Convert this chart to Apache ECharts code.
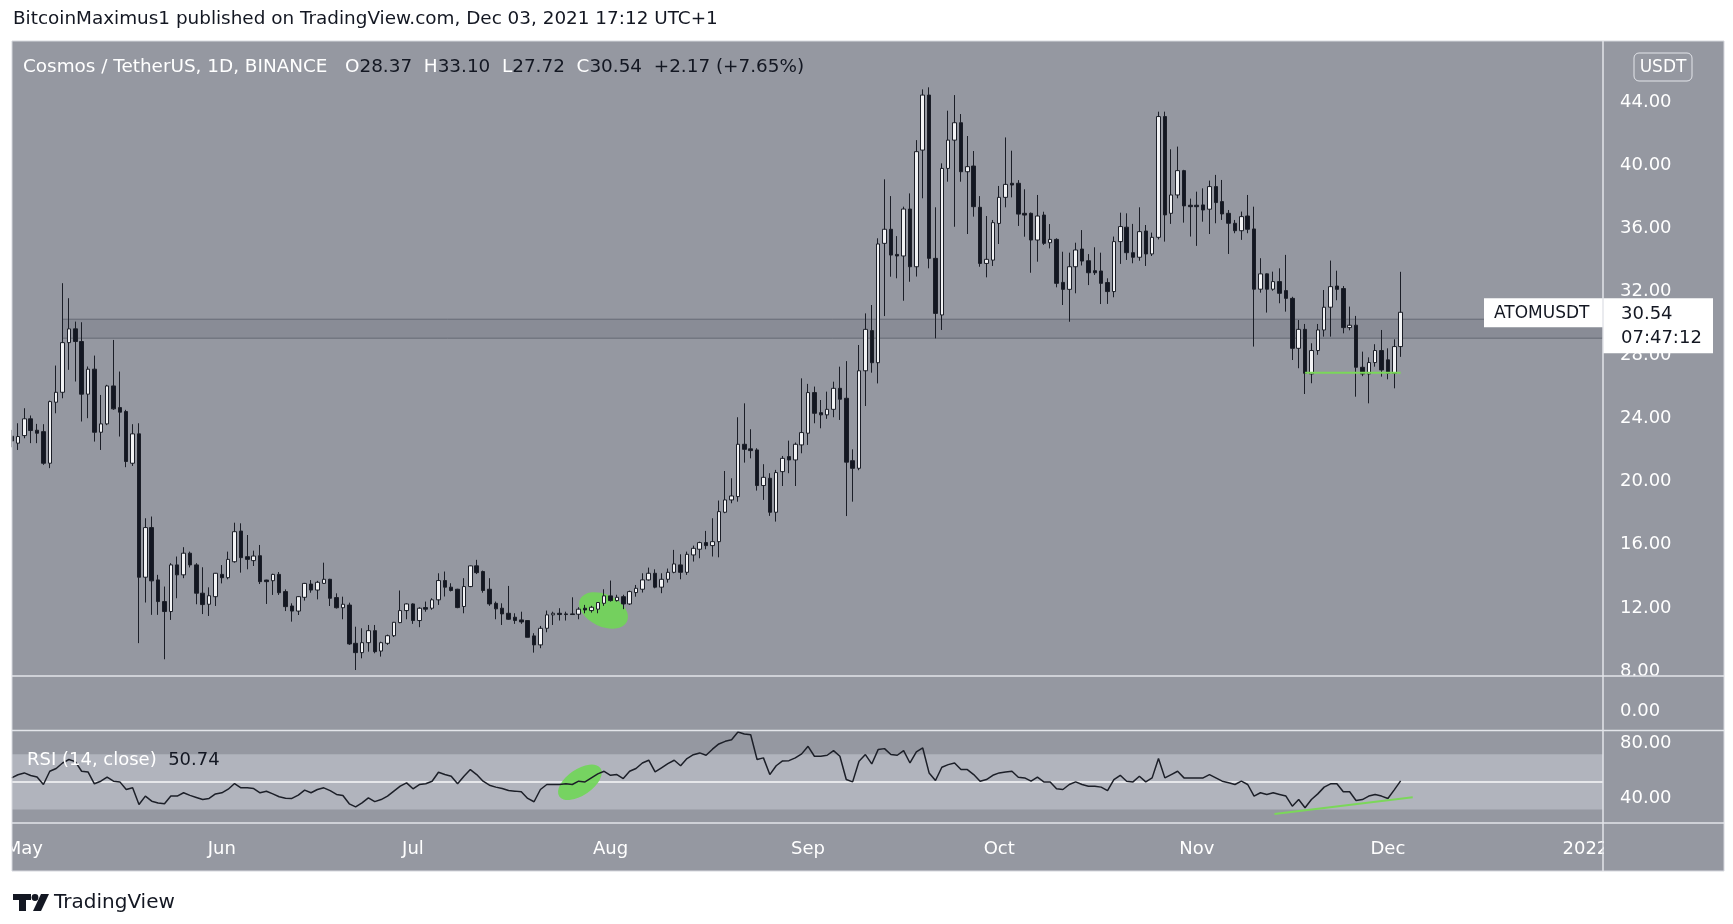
<!DOCTYPE html>
<html>
<head>
<meta charset="utf-8">
<script src="https://cdn.jsdelivr.net/npm/echarts@6/dist/echarts.min.js"></script>
<style>
html,body{margin:0;padding:0;background:#ffffff;}
#c{width:1733px;height:924px;}
</style>
</head>
<body>
<div id="c"></div>
<script>
// ---------- DATA ----------
// day index relative to 2021-05-01 (0 = May 1); first candle = Apr 29
const firstDay = -2;
const opens = [
 22.7,22.26,22.74,23.8,23.08,22.99,20.99,24.85,25.48,28.62,29.49,
 28.69,25.36,26.94,22.95,23.48,25.88,24.51,24.26,20.99,22.85,
 13.78,16.92,13.61,12.24,11.61,14.56,13.93,15.3,14.56,12.77,12.07,12.55,
 13.96,13.75,14.76,16.7,15.08,14.83,15.14,13.6,13.56,13.96,
 12.87,11.96,11.64,12.51,13.35,12.97,13.39,13.65,12.49,11.85,
 12.02,9.6,9.01,9.64,10.4,9.11,9.6,10.08,10.91,11.67,
 12.09,11.04,11.86,11.82,12.35,13.57,13.15,13.02,11.93,13.19,
 14.5,14.14,13.02,12.13,11.82,11.5,11.25,11.08,11.04,10.07,
 9.5,10.55,11.4,11.5,11.46,11.46,11.44,11.82,11.67,11.76,12.13,
 12.6,12.3,12.55,12.09,12.81,13.02,13.61,14.03,13.15,13.65,
 14.09,14.56,14.09,15.19,15.55,15.97,15.78,16.03,17.89,18.67,
 18.88,22.19,21.9,21.83,19.58,20.04,17.89,20.46,21.41,21.2,22.15,
 22.89,25.46,24.19,24.05,24.4,25.73,25.1,21.15,20.67,26.84,
 29.38,27.35,34.9,35.79,34.2,34.1,37.07,33.42,40.8,44.28,
 33.95,30.37,39.64,41.43,42.53,39.43,39.79,37.18,33.63,33.84,
 36.16,37.81,38.7,38.7,36.8,36.8,35.11,36.69,34.94,35.15,
 32.43,31.99,33.42,34.54,33.8,33.17,33.15,32.42,31.85,35.01,
 35.92,34.31,34.02,35.68,34.23,35.28,42.92,36.8,37.96,39.5,37.31,
 37.31,37.33,37.06,38.49,37.54,36.8,36.17,35.7,36.63,35.81,
 32.0,32.97,32.0,32.48,31.91,31.42,28.26,29.46,26.64,28.12,
 29.42,30.86,32.2,32.04,29.57,29.72,27.06,26.64,27.36,28.12,27.53,26.68,28.37
];
const closes = [
 22.4,22.68,23.8,23.06,22.89,20.99,24.89,25.48,28.62,29.49,28.69,
 25.36,26.94,22.95,23.48,25.88,24.43,24.22,21.1,22.85,13.78,
 16.92,13.55,12.24,11.61,14.56,13.93,15.3,14.56,12.77,12.05,12.61,14.03,
 13.75,14.91,16.66,15.02,14.91,15.12,13.5,13.5,13.96,12.8,
 11.92,11.64,12.55,13.39,12.97,13.46,13.65,12.45,11.85,12.07,
 9.56,9.01,9.64,10.4,9.07,9.64,10.08,10.93,11.67,12.09,
 11.04,11.82,11.76,12.35,13.57,13.15,12.94,11.86,13.19,14.5,
 14.07,12.94,12.09,11.78,11.46,11.12,11.04,10.95,9.98,9.5,
 10.55,11.4,11.5,11.42,11.42,11.42,11.76,11.71,11.88,12.18,12.6,
 12.3,12.51,12.09,12.87,13.08,13.61,14.03,13.15,13.65,14.09,
 14.62,14.09,15.23,15.61,15.97,15.78,16.03,17.93,18.67,18.92,
 22.19,21.87,21.79,19.58,20.1,17.89,20.4,21.3,21.2,22.19,22.93,
 25.46,24.15,24.05,24.4,25.73,25.04,21.06,20.67,26.84,29.46,
 27.35,34.86,35.79,34.16,34.1,37.07,33.42,40.7,44.28,33.95,
 30.47,39.64,41.43,42.53,39.43,39.75,37.22,33.63,33.89,36.21,
 37.81,38.63,38.59,36.75,36.69,35.11,36.63,34.9,35.15,32.37,
 31.99,33.42,34.48,33.78,33.04,33.04,32.37,31.85,35.01,35.96,
 34.31,34.02,35.64,34.23,35.28,42.92,36.7,37.96,39.5,37.27,37.22,
 37.22,37.01,38.49,37.48,36.76,36.17,35.7,36.59,35.79,32.0,
 32.97,32.0,32.48,31.74,31.42,28.26,29.46,26.68,28.12,29.42,
 30.86,32.16,31.99,29.57,29.72,27.06,26.64,27.36,28.12,26.89,26.68,28.37,30.54
];
const lows = [
 22.0,21.83,22.57,22.26,22.26,20.89,20.68,24.15,25.1,26.9,26.16,
 23.63,23.84,22.36,21.83,23.4,24.37,22.68,20.74,20.82,9.61,
 12.18,11.4,11.4,8.59,11.08,12.45,13.72,14.4,12.07,11.45,11.33,11.96,
 13.39,13.65,14.7,14.07,14.28,14.49,13.35,12.09,12.66,12.66,
 11.64,10.97,11.39,12.3,12.8,12.38,13.35,11.96,11.8,11.12,
 9.5,7.91,8.65,9.07,8.97,8.76,9.5,10.0,10.87,11.12,
 10.83,10.62,11.6,11.72,12.03,12.56,12.88,11.82,11.5,13.15,
 13.98,12.8,11.97,11.12,10.76,11.08,10.83,10.83,9.98,9.01,
 9.29,10.3,10.76,11.04,11.04,11.4,11.12,11.5,11.54,11.5,11.97,
 12.24,12.24,11.76,12.03,12.55,12.81,13.57,13.08,12.77,13.44,
 14.03,13.65,13.93,14.77,14.98,15.55,15.09,15.04,17.83,18.46,
 18.56,21.03,21.3,19.26,18.67,17.66,17.3,19.55,20.36,19.55,21.62,
 22.15,23.52,23.2,23.8,23.9,23.73,17.65,18.56,20.55,24.61,
 26.72,26.04,30.3,32.79,32.69,31.27,32.47,32.8,37.75,33.32,
 28.89,29.42,38.8,35.95,38.8,35.49,36.59,33.42,32.75,33.47,
 34.86,37.18,37.81,36.0,35.32,33.04,33.74,34.8,34.58,32.12,
 31.0,29.94,31.74,33.5,32.26,32.9,31.06,31.07,31.49,33.6,
 33.85,33.64,33.8,33.47,34.1,35.15,35.01,36.13,37.75,36.21,35.33,
 34.74,36.27,35.49,36.17,36.38,34.23,35.54,35.12,35.54,28.37,
 31.78,30.52,31.9,31.11,30.58,27.52,27.0,25.37,26.05,27.85,
 29.0,29.0,31.3,29.21,29.4,25.2,26.5,24.78,27.1,26.47,26.3,25.73,27.72
];
const highs = [
 23.1,23.52,24.47,24.01,23.48,23.46,24.95,27.17,32.38,31.43,29.95,
 29.91,27.11,27.8,25.31,25.95,28.79,26.79,24.37,23.46,23.52,
 17.51,17.62,13.93,13.19,14.67,15.09,15.68,15.4,14.67,14.41,13.14,14.05,
 14.55,15.4,17.23,17.19,16.45,15.46,15.82,13.62,14.0,14.11,
 13.01,12.13,12.58,13.42,13.6,13.55,14.7,13.68,12.76,12.55,
 12.17,10.65,10.55,10.76,10.76,9.7,10.15,10.95,12.94,12.13,
 12.13,11.88,12.24,12.45,14.03,14.14,13.4,13.05,13.72,14.52,
 14.88,14.2,13.72,12.24,12.13,13.23,11.5,11.6,11.06,10.24,
 10.7,11.67,11.6,11.82,11.6,12.51,11.88,12.03,11.97,12.2,13.02,
 13.57,12.67,12.67,12.93,13.29,14.03,14.39,14.28,14.03,14.33,
 15.51,15.23,15.4,15.78,16.03,16.71,17.51,18.63,20.5,20.04,
 23.9,24.78,23.14,21.94,20.93,20.36,20.57,21.45,22.42,22.3,26.36,
 26.01,25.84,24.99,25.52,26.15,27.1,27.45,21.87,28.47,30.47,
 31.0,35.22,38.95,37.89,35.36,37.22,38.06,41.43,44.64,44.77,
 37.18,39.96,43.29,44.28,43.08,41.69,40.74,37.89,36.63,36.38,
 38.53,41.6,40.76,38.9,38.32,36.85,37.96,36.9,36.12,35.22,
 34.37,34.31,34.94,35.74,34.22,34.65,34.31,32.69,35.33,36.84,
 36.8,36.13,37.18,36.06,35.58,43.23,43.23,40.85,41.02,39.55,37.73,
 38.17,38.38,38.87,39.23,38.91,37.01,36.38,36.91,37.96,37.22,
 33.96,33.0,33.11,33.32,34.17,31.52,30.05,29.8,28.58,29.8,
 31.95,33.81,33.17,32.2,30.9,30.31,28.05,27.69,28.52,29.42,28.26,28.83,33.10
];
const rsiValues = [
 52.9,55.2,56.5,54.6,53.6,48.1,57.7,59.7,63.7,66.2,
 64.7,57.7,57.2,48.6,50.5,53.4,50.5,50.0,44.5,45.7,
 33.6,39.7,36.0,34.7,34.1,39.7,39.7,42.1,40.2,38.7,
 37.2,38.0,41.3,42.1,44.7,48.8,45.7,45.7,45.2,42.1,
 43.2,41.3,39.2,38.2,38.0,40.4,44.0,42.1,44.5,45.7,
 43.7,40.9,40.1,34.1,31.9,34.8,38.4,35.7,37.2,39.7,
 43.3,46.9,49.3,45.0,48.1,48.6,50.5,57.0,55.3,54.1,
 48.6,54.1,58.9,55.3,50.5,47.6,46.2,45.2,43.7,43.3,
 42.8,38.0,35.6,44.5,48.1,48.1,48.1,48.6,48.1,50.5,
 50.0,52.9,55.8,57.7,54.8,55.3,52.4,57.7,59.7,63.7,
 65.7,57.2,60.2,63.2,65.7,61.7,66.9,69.7,71.0,69.3,
 73.7,77.5,79.4,80.6,86.2,84.7,84.2,66.2,67.4,55.3,
 61.7,65.2,65.4,67.4,70.3,75.8,68.6,68.6,69.3,72.7,
 68.6,51.7,50.0,65.0,69.8,63.0,73.4,74.1,69.8,69.3,
 72.7,63.7,71.7,74.6,56.5,51.0,60.6,62.5,63.7,58.9,
 58.9,55.3,50.5,51.7,54.8,56.5,57.2,57.7,53.4,52.9,
 50.5,53.4,50.0,50.0,45.0,44.5,48.1,50.0,48.1,46.9,
 46.9,46.2,43.7,51.7,54.8,50.5,50.0,54.1,50.0,52.9,
 66.9,52.9,55.3,57.7,52.9,52.9,52.9,52.9,55.3,52.9,
 50.5,49.3,48.1,50.5,48.1,39.7,42.1,40.9,42.1,40.9,
 39.7,32.4,37.2,31.2,37.2,41.3,46.2,48.6,48.6,42.8,
 42.8,36.5,37.2,39.7,40.9,39.7,38.0,44.2,50.74
];
const priceTicks = [8, 12, 16, 20, 24, 28, 32, 36, 40, 44];
const volTicks = [0];
const rsiTicks = [40, 80];
const monthStartDays = [0, 31, 61, 92, 123, 153, 184, 214, 245];
const monthLabels = ['May', 'Jun', 'Jul', 'Aug', 'Sep', 'Oct', 'Nov', 'Dec', '2022'];
const zoneData = [[6, 28.9, 30.1]];               // start day, low, high
const supportLine = [[201, 26.72], [216, 26.72]];
const rsiTrend = [[196.2, 26.8], [217.9, 38.8]];
const priceMarker = [[90.9, 11.68]];
const rsiMarker = [[87.2, 49.7]];
const rsiBand = [[0, 30, 70, 50]];
const countdown = '07:47:12';

// ---------- LAYOUT ----------
const FONT = '"DejaVu Sans", Verdana, sans-serif';
const frame = {l: 12, t: 41, r: 1724, b: 871};
const plotRight = 1603;
const gridRight = 1733 - plotRight;
const pane = {mainTop: 41, mainBottom: 676, volBottom: 730.6, rsiBottom: 823};
const dayMin = -1.93, dayMax = 247.76;
const priceMin = 7.532, priceMax = 47.70;
const rsiMin = 20.2, rsiMax = 87.17;
const BG = '#9598a1', BAND = '#b1b4bd', LINE = '#e3e5ea', DARK = '#131722', GREEN = '#7bd75a';
const TXT = '18.4px ' + FONT;

const n = opens.length;
const candles = [], rsiData = [];
for (let i = 0; i < n; i++) {
  candles.push([firstDay + i, opens[i], closes[i], lows[i], highs[i]]);
  rsiData.push([firstDay + i, rsiValues[i]]);
}
const lastClose = closes[n - 1];
const chg = lastClose - closes[n - 2];
const lastDay = firstDay + n - 1;

const chart = echarts.init(document.getElementById('c'), null, {renderer: 'canvas', width: 1733, height: 924});

function hiddenX(i, labels) {
  return {
    type: 'value', gridIndex: i, min: dayMin, max: dayMax,
    axisLine: {show: false}, axisTick: {show: false}, splitLine: {show: false},
    axisLabel: labels ? {
      customValues: monthStartDays,
      formatter: function (v) { const k = monthStartDays.indexOf(Math.round(v)); return k >= 0 ? monthLabels[k] : ''; },
      color: '#ffffff', fontFamily: FONT, fontSize: 18, margin: 17
    } : {show: false}
  };
}
function yAx(i, min, max, ticks) {
  return {
    type: 'value', gridIndex: i, position: 'right', min: min, max: max,
    axisLine: {show: false}, axisTick: {show: false}, splitLine: {show: false},
    axisLabel: {customValues: ticks, formatter: function (v) { return '{t|' + v.toFixed(2) + '}'; },
      margin: 17,
      rich: {t: {color: '#ffffff', fontFamily: FONT, fontSize: 18, padding: [5, 0, 0, 0]}}}
  };
}

function ellipseRenderer(rx, ry, rot, fill) {
  return function (params, api) {
    const p = api.coord([api.value(0), api.value(1)]);
    return {type: 'circle', x: p[0], y: p[1], scaleX: rx, scaleY: ry, rotation: rot,
      shape: {cx: 0, cy: 0, r: 1}, style: {fill: fill}};
  };
}

const option = {
  backgroundColor: '#ffffff',
  animation: false,
  grid: [
    {left: frame.l, right: gridRight, top: pane.mainTop, height: pane.mainBottom - pane.mainTop},
    {left: frame.l, right: gridRight, top: pane.mainBottom, height: pane.volBottom - pane.mainBottom},
    {left: frame.l, right: gridRight, top: pane.volBottom, height: pane.rsiBottom - pane.volBottom}
  ],
  xAxis: [hiddenX(0, false), hiddenX(1, false), hiddenX(2, true)],
  yAxis: [
    yAx(0, priceMin, priceMax, priceTicks),
    yAx(1, -0.405, 0.595, volTicks),
    yAx(2, rsiMin, rsiMax, rsiTicks)
  ],
  series: [
    { // resistance zone
      type: 'custom', xAxisIndex: 0, yAxisIndex: 0, z: 1, silent: true, clip: false,
      data: zoneData, encode: {x: 0, y: [1, 2]},
      renderItem: function (params, api) {
        const pTop = api.coord([api.value(0), api.value(2)]);
        const pBot = api.coord([api.value(0), api.value(1)]);
        const cs = params.coordSys;
        return {type: 'rect', shape: {x: pTop[0], y: pTop[1], width: cs.x + cs.width - pTop[0], height: pBot[1] - pTop[1]},
          style: {fill: 'rgba(40,44,56,0.10)', stroke: '#666a75', lineWidth: 1}};
      }
    },
    { // green highlight on price
      type: 'custom', xAxisIndex: 0, yAxisIndex: 0, z: 2, silent: true, clip: false,
      data: priceMarker, encode: {x: 0, y: 1},
      renderItem: ellipseRenderer(26, 16, -0.44, 'rgba(112,214,86,0.9)')
    },
    {
      type: 'candlestick', xAxisIndex: 0, yAxisIndex: 0, z: 3, silent: true,
      data: candles, encode: {x: 0, y: [1, 2, 3, 4]},
      barWidth: 4,
      itemStyle: {color: '#f2f3f5', color0: DARK, borderColor: '#1b1e27', borderColor0: '#1b1e27', borderWidth: 1}
    },
    {
      type: 'line', xAxisIndex: 0, yAxisIndex: 0, z: 4, silent: true,
      data: supportLine, symbol: 'none', lineStyle: {color: GREEN, width: 2}
    },
    { // last price label
      type: 'custom', xAxisIndex: 0, yAxisIndex: 0, z: 20, silent: true, clip: false,
      data: [[lastDay, lastClose]], encode: {x: 0, y: 1},
      renderItem: function (params, api) {
        const y = api.coord([api.value(0), api.value(1)])[1];
        const cs = params.coordSys;
        const right = cs.x + cs.width;
        return {type: 'group', children: [
          {type: 'rect', shape: {x: right - 119, y: y - 14, width: 119, height: 29}, style: {fill: '#ffffff'}},
          {type: 'text', x: right - 109, y: y + 1, style: {text: 'ATOMUSDT', fill: DARK, font: '17px ' + FONT, verticalAlign: 'middle', align: 'left'}},
          {type: 'rect', shape: {x: right, y: y - 14, width: 110, height: 55}, style: {fill: '#ffffff'}},
          {type: 'text', x: right + 18, y: y + 2, style: {text: lastClose.toFixed(2), fill: DARK, font: '18px ' + FONT, verticalAlign: 'middle', align: 'left'}},
          {type: 'text', x: right + 18, y: y + 26, style: {text: countdown, fill: DARK, font: '18px ' + FONT, verticalAlign: 'middle', align: 'left'}}
        ]};
      }
    },
    { // RSI band + midline
      type: 'custom', xAxisIndex: 2, yAxisIndex: 2, z: 0, silent: true, clip: false,
      data: rsiBand, encode: {x: 0, y: [1, 2, 3]},
      renderItem: function (params, api) {
        const cs = params.coordSys;
        const y30 = api.coord([api.value(0), api.value(1)])[1];
        const y70 = api.coord([api.value(0), api.value(2)])[1];
        const y50 = api.coord([api.value(0), api.value(3)])[1];
        return {type: 'group', children: [
          {type: 'rect', shape: {x: cs.x, y: y70, width: cs.width, height: y30 - y70}, style: {fill: BAND}},
          {type: 'line', shape: {x1: cs.x, y1: y50, x2: cs.x + cs.width, y2: y50}, style: {stroke: 'rgba(255,255,255,0.9)', lineWidth: 1.5}}
        ]};
      }
    },
    {
      type: 'custom', xAxisIndex: 2, yAxisIndex: 2, z: 1, silent: true, clip: false,
      data: rsiMarker, encode: {x: 0, y: 1},
      renderItem: ellipseRenderer(25, 13, 0.6, 'rgba(112,214,86,0.9)')
    },
    {
      type: 'line', xAxisIndex: 2, yAxisIndex: 2, z: 3, silent: true,
      data: rsiData, symbol: 'none', lineStyle: {color: '#1c1f28', width: 1.5}
    },
    {
      type: 'line', xAxisIndex: 2, yAxisIndex: 2, z: 4, silent: true,
      data: rsiTrend, symbol: 'none', lineStyle: {color: GREEN, width: 2}
    }
  ],
  graphic: [
    {type: 'rect', z: -10, shape: {x: frame.l, y: frame.t, width: frame.r - frame.l, height: frame.b - frame.t},
      style: {fill: BG}},
    // covers that clip marks and labels at the frame edges
    {type: 'rect', z: 40, shape: {x: 0, y: frame.t, width: frame.l - 0.5, height: frame.b - frame.t + 2}, style: {fill: '#ffffff'}},
    {type: 'rect', z: 40, shape: {x: plotRight + 1, y: pane.rsiBottom + 1, width: frame.r - plotRight - 2, height: frame.b - pane.rsiBottom - 2}, style: {fill: BG}},
    {type: 'rect', z: 45, shape: {x: frame.l, y: frame.t, width: frame.r - frame.l, height: frame.b - frame.t},
      style: {fill: 'none', stroke: '#d6d8de', lineWidth: 1}},
    // pane separators
    {type: 'line', z: 50, shape: {x1: frame.l, y1: pane.mainBottom, x2: frame.r, y2: pane.mainBottom}, style: {stroke: LINE, lineWidth: 1.5}},
    {type: 'line', z: 50, shape: {x1: frame.l, y1: pane.volBottom, x2: frame.r, y2: pane.volBottom}, style: {stroke: LINE, lineWidth: 1.5}},
    {type: 'line', z: 50, shape: {x1: frame.l, y1: pane.rsiBottom, x2: frame.r, y2: pane.rsiBottom}, style: {stroke: LINE, lineWidth: 1.5}},
    {type: 'line', z: 50, shape: {x1: plotRight, y1: frame.t, x2: plotRight, y2: frame.b}, style: {stroke: LINE, lineWidth: 1.5}},
    // header
    {type: 'text', z: 60, x: 13, y: 19, style: {text: 'BitcoinMaximus1 published on TradingView.com, Dec 03, 2021 17:12 UTC+1',
      fill: DARK, font: TXT, verticalAlign: 'middle'}},
    // legend
    {type: 'text', z: 60, x: 23, y: 67, style: {
      text: '{w|Cosmos / TetherUS, 1D, BINANCE}   {w|O}{d|' + opens[n - 1].toFixed(2) + '}  {w|H}{d|' + highs[n - 1].toFixed(2) +
        '}  {w|L}{d|' + lows[n - 1].toFixed(2) + '}  {w|C}{d|' + lastClose.toFixed(2) + '}  {d|' + (chg >= 0 ? '+' : '') + chg.toFixed(2) +
        ' (' + (chg >= 0 ? '+' : '') + (chg / closes[n - 2] * 100).toFixed(2) + '%)}',
      font: TXT, fill: '#ffffff', verticalAlign: 'middle',
      rich: {w: {fill: '#ffffff', font: TXT}, d: {fill: DARK, font: TXT}}}},
    // USDT badge
    {type: 'rect', z: 60, shape: {x: 1634, y: 53, width: 58, height: 28, r: 5}, style: {fill: BG, stroke: '#e3e5ea', lineWidth: 1}},
    {type: 'text', z: 61, x: 1663, y: 67.5, style: {text: 'USDT', fill: '#ffffff', font: '17px ' + FONT, align: 'center', verticalAlign: 'middle'}},
    // RSI legend
    {type: 'text', z: 60, x: 27, y: 760, style: {
      text: '{w|RSI (14, close)}  {d|' + rsiValues[n - 1].toFixed(2) + '}', font: '18px ' + FONT, verticalAlign: 'middle',
      rich: {w: {fill: '#ffffff', font: '18px ' + FONT}, d: {fill: DARK, font: '18px ' + FONT}}}},
    // footer logo
    {type: 'polygon', z: 60, shape: {points: [[13, 894], [31, 894], [31, 900], [26, 900], [26, 911], [19, 911], [19, 900], [13, 900]]}, style: {fill: DARK}},
    {type: 'circle', z: 60, shape: {cx: 35, cy: 897.5, r: 3.4}, style: {fill: DARK}},
    {type: 'polygon', z: 60, shape: {points: [[41, 894], [49, 894], [41, 911], [33, 911]]}, style: {fill: DARK}},
    {type: 'text', z: 60, x: 54, y: 903, style: {text: 'TradingView', fill: DARK, font: '20px ' + FONT, verticalAlign: 'middle'}}
  ]
};
chart.setOption(option);
</script>
</body>
</html>
